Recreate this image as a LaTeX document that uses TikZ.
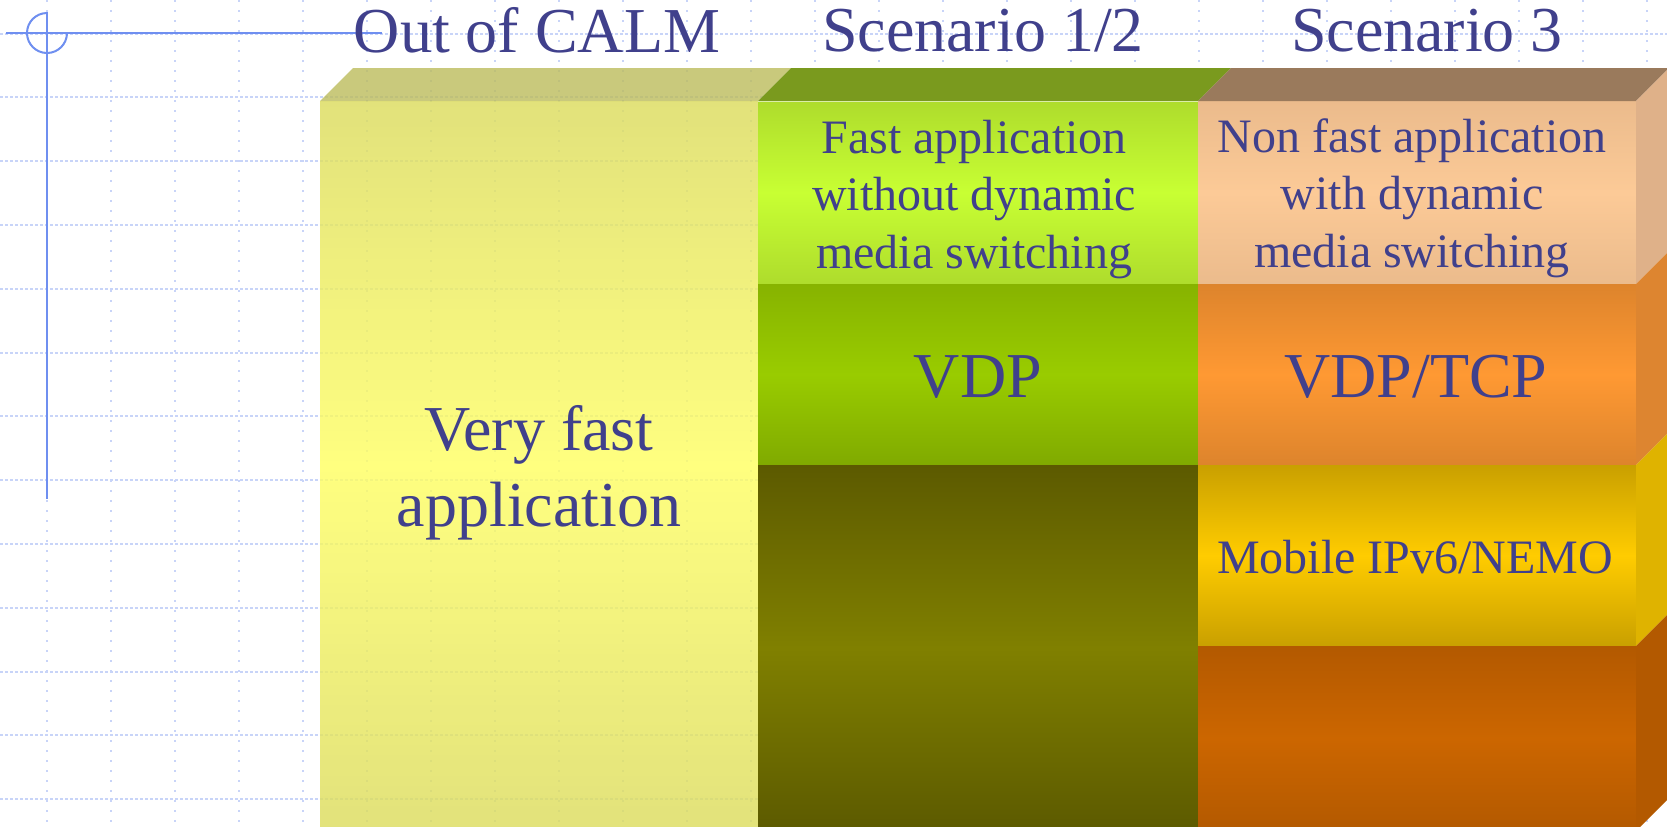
\documentclass[tikz,border=0pt]{standalone}
\usepackage{fontspec}
\setmainfont{Liberation Serif}
\usetikzlibrary{calc}

% palette
\definecolor{ink}{HTML}{40408C}
\definecolor{gridblue}{HTML}{C8D4F8}
\definecolor{axisblue}{HTML}{6F8FF0}
% yellow column (drawn translucent)
\definecolor{yEdge}{HTML}{DBDB5B}
\definecolor{yMid}{HTML}{FFFF60}
\definecolor{yTopFace}{HTML}{BCBC5C}
% green column
\definecolor{gAEdge}{HTML}{AEDC2C}
\definecolor{gAMid}{HTML}{C8FF33}
\definecolor{gBTop}{HTML}{87B300}
\definecolor{gBMid}{HTML}{99CC00}
\definecolor{gBBot}{HTML}{80AA00}
\definecolor{gCEdge}{HTML}{5C5A00}
\definecolor{gCMid}{HTML}{808000}
\definecolor{gTopFace}{HTML}{7A9A1E}
% orange column
\definecolor{oAEdge}{HTML}{EBBB8C}
\definecolor{oAMid}{HTML}{FCCA97}
\definecolor{oBEdge}{HTML}{DD842C}
\definecolor{oBMid}{HTML}{FF9933}
\definecolor{oCEdge}{HTML}{C9A000}
\definecolor{oCMid}{HTML}{FFCC00}
\definecolor{oDEdge}{HTML}{B35900}
\definecolor{oDMid}{HTML}{CC6600}
\definecolor{oTopFace}{HTML}{9A7A5C}
\definecolor{oASide}{HTML}{DFB189}
\definecolor{oBSide}{HTML}{DD8530}
\definecolor{oCSide}{HTML}{DFB300}
\definecolor{oDSide}{HTML}{B35900}

\begin{document}
\begin{tikzpicture}[x=0.5pt,y=-0.5pt,
  gridh/.style={draw=gridblue, line width=1pt, dash pattern=on 1.5pt off 1pt},
  gridv/.style={draw=gridblue, line width=1pt, dash pattern=on 1pt off 4pt},
  axis/.style={draw=axisblue, line width=1pt},
  lbl/.style={text=ink, inner sep=0pt, anchor=base},
  big/.style={lbl, font=\fontsize{32}{38.4}\selectfont},
  small/.style={lbl, font=\fontsize{24}{28.8}\selectfont},
]
\useasboundingbox (0,0) rectangle (1667,826);
\fill[white] (0,0) rectangle (1667,826);

% background grid
\foreach \k in {0,...,12}
  \draw[gridh] (0,{33.5+63.8*\k}) -- (1667,{33.5+63.8*\k});
\foreach \k in {0,...,25}
  \draw[gridv] ({47+64*\k},0) -- ({47+64*\k},826);

% ---- column 1: translucent yellow block
\shade[top color=yEdge, bottom color=yEdge, middle color=yMid, opacity=0.8]
  (320,101) rectangle (758,831);
\fill[yTopFace, opacity=0.8] (320,101) -- (353,68) -- (791,68) -- (758,101) -- cycle;

% ---- column 2: green stack
\shade[top color=gAEdge, bottom color=gAEdge, middle color=gAMid] (758,101) rectangle (1198,284);
\shade[top color=gBTop, bottom color=gBBot, middle color=gBMid] (758,284) rectangle (1198,465);
\shade[top color=gCEdge, bottom color=gCEdge, middle color=gCMid] (758,465) rectangle (1198,831);
\fill[gTopFace] (758,101) -- (791,68) -- (1231,68) -- (1198,101) -- cycle;
\draw[white, opacity=0.6, line width=0.6pt] (758,101.5) -- (1198,101.5);

% ---- column 3: orange stack
\shade[top color=oAEdge, bottom color=oAEdge, middle color=oAMid] (1198,101) rectangle (1636,284);
\shade[top color=oBEdge, bottom color=oBEdge, middle color=oBMid] (1198,284) rectangle (1636,465);
\shade[top color=oCEdge, bottom color=oCEdge, middle color=oCMid] (1198,465) rectangle (1636,646);
\shade[top color=oDEdge, bottom color=oDEdge, middle color=oDMid] (1198,646) rectangle (1636,831);
\fill[oTopFace] (1198,101) -- (1231,68) -- (1669,68) -- (1636,101) -- cycle;
% right-hand side faces
\fill[oASide] (1636,101) -- (1669,68)  -- (1669,251) -- (1636,284) -- cycle;
\fill[oBSide] (1636,284) -- (1669,251) -- (1669,432) -- (1636,465) -- cycle;
\fill[oCSide] (1636,465) -- (1669,432) -- (1669,613) -- (1636,646) -- cycle;
\fill[oDSide] (1636,646) -- (1669,613) -- (1669,798) -- (1636,831) -- cycle;

% ---- corner cross-hair
\coordinate (cross) at (47,33);
\draw[axis] (6,33) -- (382,33);
\draw[axis] (47,12) -- (47,499);
\draw[axis] (cross) ++(0,-20) arc[start angle=90, end angle=360, radius=10pt];

% ---- headings
\node[big] (calm) at (537,52) {Out of CALM};
\node[big] (scA)  at (983,51) {Scenario 1/2};
\node[big] (scB)  at (1427,51) {Scenario 3};

% ---- block labels
\node[big] (vfast) at (539,450)
  {\begin{tabular}[t]{@{}c@{}}Very fast\\application\end{tabular}};
\node[small] (fastapp) at (974,153)
  {\begin{tabular}[t]{@{}c@{}}Fast application\\without dynamic\\media switching\end{tabular}};
\node[big] (vdp) at (978,397) {VDP};
\node[small] (nonfast) at (1412,152)
  {\begin{tabular}[t]{@{}c@{}}Non fast application\\with dynamic\\media switching\end{tabular}};
\node[big] (vdptcp) at (1416,397) {VDP/TCP};
\node[small] (mip) at (1415,573) {Mobile IPv6/NEMO};
\end{tikzpicture}
\end{document}
